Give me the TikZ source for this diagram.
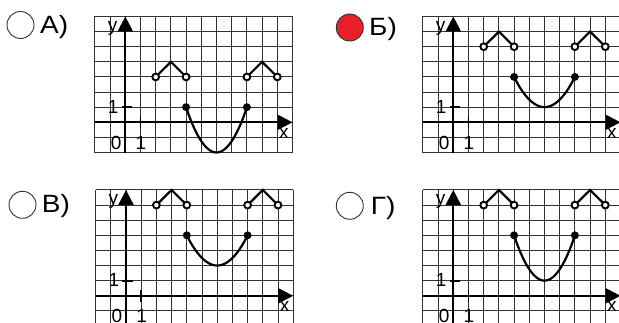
\documentclass[tikz,border=0pt]{standalone}
\usepackage{fontspec}
\setmainfont{Liberation Sans}
\newfontfamily\choicefont[FakeStretch=1.12]{Liberation Sans}
\usetikzlibrary{arrows.meta,positioning}

\definecolor{optred}{RGB}{232,32,42}

% grid, axes and axis labels of one panel; #1 = prefix of the node names
\newcommand{\coordpanel}[1]{%
  \draw[gridline, step=1] (-2,-2) grid (11,7);
  \draw[axis] (-2,0) -- (11,0);
  \draw[axis] (0,-2) -- (0,7);
  \draw[tick] (1,-0.4) -- (1,0.4);
  \draw[tick] (-0.25,1) -- (0.45,1);
  \node[axlbl] (#1y) at (-0.83,6.02) {y};
  \node[axlbl] (#1x) at (10.44,-1.06) {x};
  \node[axlbl] (#1zero) at (-0.6,-1.79) {0};
  \node[axlbl] (#1onex) at (1.03,-1.79) {1};
  \node[axlbl] (#1oney) at (-0.8,0.6) {1};
}

\begin{document}
\begin{tikzpicture}[
			gridline/.style={draw=black!80, line width=1pt},
			axis/.style={line width=2.2pt, -{Triangle[length=15pt, width=15pt]}},
			tick/.style={line width=1.8pt},
			curve/.style={line width=2.2pt},
			axlbl/.style={anchor=base, inner sep=0pt, font=\fontsize{19}{21}\selectfont},
			opendot/.style={circle, draw, fill=white, line width=1.9pt, minimum size=6.8pt, inner sep=0pt},
			fulldot/.style={circle, fill, minimum size=8pt, inner sep=0pt},
			choice/.style={circle, draw=black!80, line width=0.9pt, minimum size=27pt, inner sep=0pt},
			lbl/.style={anchor=base west, inner sep=0pt, font=\choicefont\fontsize{25}{29}\selectfont}
			]
			\useasboundingbox (0,-322pt) rectangle (619pt,0);
			
			% answer marks
			\node[choice] (optA) at (20.5pt,-25pt) {};
			\node[lbl] (labA) at (40pt,-33.3pt) {А)};
			\node[choice, fill=optred] (optB) at (349.8pt,-27.5pt) {};
			\node[lbl] (labB) at (369pt,-35pt) {Б)};
			\node[choice] (optV) at (22.5pt,-204.8pt) {};
			\node[lbl] (labV) at (41.7pt,-212pt) {В)};
			\node[choice] (optG) at (349.8pt,-205.8pt) {};
			\node[lbl] (labG) at (370.7pt,-214pt) {Г)};
			
			% panel A
			\begin{scope}[shift={(125.3pt,-122.3pt)}, x=15.2pt, y=15.12pt]
				\coordpanel{a}
				\coordinate (a1) at (2,3); \coordinate (a2) at (3,4); \coordinate (a3) at (4,3);
				\coordinate (a4) at (8,3); \coordinate (a5) at (9,4); \coordinate (a6) at (10,3);
				\coordinate (a7) at (4,1); \coordinate (a8) at (8,1);
				\draw[curve] (a1) -- (a2) -- (a3);
				\draw[curve] (a4) -- (a5) -- (a6);
				\draw[curve] (a7) parabola bend (6,-2) (a8);
				\node[opendot] (ad1) at (a1) {}; \node[opendot] (ad3) at (a3) {};
				\node[opendot] (ad4) at (a4) {}; \node[opendot] (ad6) at (a6) {};
				\node[fulldot] (ad7) at (a7) {}; \node[fulldot] (ad8) at (a8) {};
			\end{scope}
			
			% panel B
			\begin{scope}[shift={(453.3pt,-122.3pt)}, x=15.2pt, y=15.12pt]
				\coordpanel{b}
				\coordinate (b1) at (2,5); \coordinate (b2) at (3,6); \coordinate (b3) at (4,5);
				\coordinate (b4) at (8,5); \coordinate (b5) at (9,6); \coordinate (b6) at (10,5);
				\coordinate (b7) at (4,3); \coordinate (b8) at (8,3);
				\draw[curve] (b1) -- (b2) -- (b3);
				\draw[curve] (b4) -- (b5) -- (b6);
				\draw[curve] (b7) parabola bend (6,1) (b8);
				\node[opendot] (bd1) at (b1) {}; \node[opendot] (bd3) at (b3) {};
				\node[opendot] (bd4) at (b4) {}; \node[opendot] (bd6) at (b6) {};
				\node[fulldot] (bd7) at (b7) {}; \node[fulldot] (bd8) at (b8) {};
			\end{scope}
			
			% panel V
			\begin{scope}[shift={(126pt,-295.8pt)}, x=15.2pt, y=15.12pt]
				\coordpanel{v}
				\coordinate (v1) at (2,6); \coordinate (v2) at (3,7); \coordinate (v3) at (4,6);
				\coordinate (v4) at (8,6); \coordinate (v5) at (9,7); \coordinate (v6) at (10,6);
				\coordinate (v7) at (4,4); \coordinate (v8) at (8,4);
				\draw[curve] (v1) -- (v2) -- (v3);
				\draw[curve] (v4) -- (v5) -- (v6);
				\draw[curve] (v7) parabola bend (6,2) (v8);
				\node[opendot] (vd1) at (v1) {}; \node[opendot] (vd3) at (v3) {};
				\node[opendot] (vd4) at (v4) {}; \node[opendot] (vd6) at (v6) {};
				\node[fulldot] (vd7) at (v7) {}; \node[fulldot] (vd8) at (v8) {};
			\end{scope}
			
			% panel G
			\begin{scope}[shift={(453.3pt,-295.8pt)}, x=15.2pt, y=15.12pt]
				\coordpanel{g}
				\coordinate (g1) at (2,6); \coordinate (g2) at (3,7); \coordinate (g3) at (4,6);
				\coordinate (g4) at (8,6); \coordinate (g5) at (9,7); \coordinate (g6) at (10,6);
				\coordinate (g7) at (4,4); \coordinate (g8) at (8,4);
				\draw[curve] (g1) -- (g2) -- (g3);
				\draw[curve] (g4) -- (g5) -- (g6);
				\draw[curve] (g7) parabola bend (6,1) (g8);
				\node[opendot] (gd1) at (g1) {}; \node[opendot] (gd3) at (g3) {};
				\node[opendot] (gd4) at (g4) {}; \node[opendot] (gd6) at (g6) {};
				\node[fulldot] (gd7) at (g7) {}; \node[fulldot] (gd8) at (g8) {};
			\end{scope}
		\end{tikzpicture}
\end{document}
